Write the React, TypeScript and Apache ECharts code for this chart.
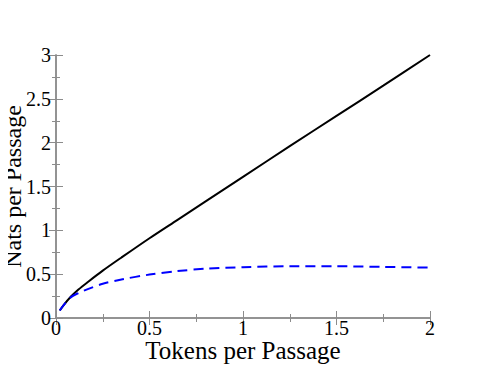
import React, { useEffect, useRef } from "react";
import * as echarts from "echarts";

const xTicks = [0, 0.5, 1, 1.5, 2];
const yTicks = [0, 0.5, 1, 1.5, 2, 2.5, 3];

const blackX = [0.02, 0.04, 0.08, 0.12, 0.17, 0.25, 0.35, 0.5, 0.65, 0.8, 1, 1.25, 1.5, 1.75, 2];
const blackY = [0.085, 0.145, 0.245, 0.325, 0.41, 0.54, 0.69, 0.91, 1.12, 1.33, 1.61, 1.96, 2.305, 2.65, 3.0];

const blueX = [0.02, 0.04, 0.08, 0.12, 0.17, 0.25, 0.35, 0.5, 0.65, 0.8, 1, 1.25, 1.5, 1.75, 2];
const blueY = [0.085, 0.145, 0.238, 0.285, 0.33, 0.39, 0.44, 0.495, 0.535, 0.562, 0.58, 0.59, 0.59, 0.583, 0.575];

const FONT = "'Liberation Serif', 'Times New Roman', serif";
const AXIS_COLOR = "#8c8c8c";

export default function App() {
  const ref = useRef<HTMLDivElement>(null);
  useEffect(() => {
    const chart = echarts.init(ref.current!, null, { renderer: "svg" });
    const axisCommon = {
      type: "value" as const,
      axisLine: { show: true, lineStyle: { color: AXIS_COLOR, width: 1.5 } },
      axisTick: { show: true, inside: true, length: 7, lineStyle: { color: AXIS_COLOR } },
      minorTick: { show: true, splitNumber: 2, length: 4, lineStyle: { color: AXIS_COLOR } },
      splitLine: { show: false },
    };
    const labelStyle = { color: "#000", fontFamily: FONT, fontSize: 20 };
    chart.setOption({
      animation: false,
      grid: { left: 56, right: 55, top: 55, bottom: 56, containLabel: false, outerBoundsMode: "none" },
      xAxis: [
        {
          ...axisCommon,
          position: "bottom",
          min: xTicks[0],
          max: xTicks[xTicks.length - 1],
          interval: 0.5,
          axisLabel: { ...labelStyle, margin: 2, lineHeight: 16, formatter: (v: number) => String(v) },
          name: "Tokens per Passage",
          nameLocation: "middle",
          nameGap: 22.5,
          nameMoveOverlap: false,
          nameTextStyle: { color: "#000", fontFamily: FONT, fontSize: 25, lineHeight: 20 },
        },
        {
          ...axisCommon,
          position: "top",
          min: xTicks[0],
          max: xTicks[xTicks.length - 1],
          interval: 0.5,
          axisLabel: { show: false },
        },
      ],
      yAxis: [
        {
          ...axisCommon,
          position: "left",
          min: yTicks[0],
          max: yTicks[yTicks.length - 1],
          interval: 0.5,
          axisLabel: { ...labelStyle, margin: 5, formatter: (v: number) => String(v) },
          name: "Nats per Passage",
          nameLocation: "middle",
          nameGap: 31.5,
          nameMoveOverlap: false,
          nameTextStyle: { color: "#000", fontFamily: FONT, fontSize: 24 },
        },
        {
          ...axisCommon,
          position: "right",
          min: yTicks[0],
          max: yTicks[yTicks.length - 1],
          interval: 0.5,
          axisLabel: { show: false },
        },
      ],
      series: [
        {
          type: "line",
          xAxisIndex: 0,
          yAxisIndex: 0,
          data: blackX.map((x, i) => [x, blackY[i]]),
          smooth: 0.3,
          showSymbol: false,
          lineStyle: { color: "#000", width: 2 },
        },
        {
          type: "line",
          xAxisIndex: 0,
          yAxisIndex: 0,
          data: blueX.map((x, i) => [x, blueY[i]]),
          smooth: 0.3,
          showSymbol: false,
          lineStyle: { color: "#0000ff", width: 2, type: [10, 6] },
        },
      ],
    });
    return () => chart.dispose();
  }, []);
  return <div ref={ref} style={{ width: 485, height: 374, margin: -8 }} />;
}
